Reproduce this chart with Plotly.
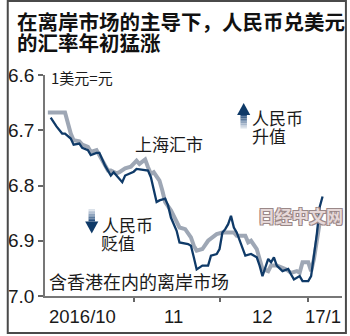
import plotly.graph_objects as go

# ---- data ----
offshore_dates = [
    "2016-10-03", "2016-10-05", "2016-10-07", "2016-10-08", "2016-10-10", "2016-10-11",
    "2016-10-13", "2016-10-14", "2016-10-16", "2016-10-17", "2016-10-19", "2016-10-20",
    "2016-10-22", "2016-10-24", "2016-10-25", "2016-10-28", "2016-10-29", "2016-11-01",
    "2016-11-02", "2016-11-05", "2016-11-06", "2016-11-07", "2016-11-09", "2016-11-10",
    "2016-11-12", "2016-11-13", "2016-11-14", "2016-11-16", "2016-11-17", "2016-11-20",
    "2016-11-21", "2016-11-22", "2016-11-23", "2016-11-25", "2016-11-27", "2016-11-28",
    "2016-11-30", "2016-12-01", "2016-12-02", "2016-12-03", "2016-12-04", "2016-12-05",
    "2016-12-06", "2016-12-07", "2016-12-08", "2016-12-09", "2016-12-10", "2016-12-12",
    "2016-12-14", "2016-12-15", "2016-12-16", "2016-12-18", "2016-12-19", "2016-12-20",
    "2016-12-21", "2016-12-23", "2016-12-25", "2016-12-26", "2016-12-27", "2016-12-29",
    "2016-12-30", "2017-01-01", "2017-01-02", "2017-01-04", "2017-01-05", "2017-01-06",
]
offshore_values = [
    6.677, 6.693, 6.706, 6.706, 6.715, 6.726,
    6.724, 6.732, 6.736, 6.745, 6.741, 6.741,
    6.764, 6.782, 6.776, 6.794, 6.782, 6.775,
    6.770, 6.773, 6.773, 6.785, 6.830, 6.827,
    6.824, 6.836, 6.858, 6.882, 6.903, 6.906,
    6.909, 6.930, 6.952, 6.945, 6.945, 6.927,
    6.924, 6.915, 6.885, 6.879, 6.870, 6.855,
    6.876, 6.885, 6.900, 6.915, 6.927, 6.924,
    6.930, 6.945, 6.964, 6.933, 6.939, 6.930,
    6.945, 6.955, 6.951, 6.961, 6.970, 6.964,
    6.973, 6.973, 6.964, 6.888, 6.839, 6.820,
]

shanghai_dates = [
    "2016-10-02", "2016-10-08", "2016-10-10", "2016-10-11", "2016-10-13", "2016-10-14",
    "2016-10-16", "2016-10-17", "2016-10-19", "2016-10-21", "2016-10-23", "2016-10-24",
    "2016-10-26", "2016-10-27", "2016-10-29", "2016-10-31", "2016-11-02", "2016-11-03",
    "2016-11-05", "2016-11-06", "2016-11-07", "2016-11-08", "2016-11-10", "2016-11-11",
    "2016-11-12", "2016-11-14", "2016-11-16", "2016-11-17", "2016-11-19", "2016-11-21",
    "2016-11-22", "2016-11-23", "2016-11-25", "2016-11-27", "2016-11-30", "2016-12-02",
    "2016-12-04", "2016-12-06", "2016-12-07", "2016-12-10", "2016-12-11", "2016-12-12",
    "2016-12-14", "2016-12-16", "2016-12-18", "2016-12-19", "2016-12-21", "2016-12-23",
    "2016-12-24", "2016-12-26", "2016-12-28", "2016-12-29", "2016-12-30", "2017-01-01",
    "2017-01-02", "2017-01-03", "2017-01-05",
]
shanghai_values = [
    6.668, 6.668, 6.706, 6.718, 6.720, 6.726,
    6.730, 6.739, 6.736, 6.755, 6.773, 6.773,
    6.778, 6.776, 6.769, 6.766, 6.755, 6.761,
    6.753, 6.767, 6.779, 6.776, 6.791, 6.809,
    6.830, 6.845, 6.864, 6.876, 6.879, 6.894,
    6.909, 6.918, 6.915, 6.900, 6.888, 6.885,
    6.885, 6.885, 6.891, 6.891, 6.903, 6.900,
    6.915, 6.951, 6.955, 6.945, 6.945, 6.948,
    6.951, 6.958, 6.955, 6.958, 6.939, 6.939,
    6.955, 6.933, 6.867,
]

y_ticks = [6.6, 6.7, 6.8, 6.9, 7.0]
y_tick_labels = ["6.6", "6.7", "6.8", "6.9", "7.0"]
month_ticks = ["2016-11-01", "2016-12-01", "2017-01-01"]
month_label_pos = ["2016-10-14", "2016-11-15", "2016-12-16", "2017-01-06"]
month_labels = ["2016/10", "11", "12", "17/1"]

title_lines = ["在离岸市场的主导下，人民币兑美元", "的汇率年初猛涨"]

# ---- layout geometry (pixels) ----
W, H = 350, 336
L, R, T, B = 39, 8, 75, 40
PW, PH = W - L - R, H - T - B


def X(px):
    return (px - L) / PW


def Y(py):
    return (H - B - py) / PH


CJK = "Noto Sans CJK SC, Noto Sans CJK JP, sans-serif"
NUM = "Liberation Sans, Arial, sans-serif"
DARK = "#0f3a68"
GRAY = "#9ea7b5"
TXT = "#1a1a1a"

fig = go.Figure()
fig.add_trace(go.Scatter(x=shanghai_dates, y=shanghai_values, mode="lines",
                         line=dict(color=GRAY, width=4), hoverinfo="skip", showlegend=False))
fig.add_trace(go.Scatter(x=offshore_dates, y=offshore_values, mode="lines",
                         line=dict(color=DARK, width=2.3), hoverinfo="skip", showlegend=False))

annotations = []
# title
for line, py in zip(title_lines, [21, 42]):
    annotations.append(dict(text=line, x=X(8), y=Y(py), xref="paper", yref="paper",
                            xanchor="left", yanchor="middle", showarrow=False,
                            font=dict(family=CJK, size=20.5, color="#111", weight="bold")))
# unit
annotations.append(dict(text="1美元=元", x=X(43), y=Y(77.5), xref="paper", yref="paper",
                        xanchor="left", yanchor="middle", showarrow=False,
                        font=dict(family=CJK, size=15, color=TXT)))
# x labels
for pos, lab in zip(month_label_pos, month_labels):
    annotations.append(dict(text=lab, x=pos, y=Y(316), xref="x", yref="paper",
                            xanchor="center", yanchor="middle", showarrow=False,
                            font=dict(family=NUM, size=18.5, color=TXT)))
# series labels
annotations.append(dict(text="上海汇市", x=X(165), y=Y(143), xref="paper", yref="paper",
                        xanchor="center", yanchor="middle", showarrow=False,
                        font=dict(family=CJK, size=17, color=TXT)))
annotations.append(dict(text="含香港在内的离岸市场", x=X(41), y=Y(281), xref="paper", yref="paper",
                        xanchor="left", yanchor="middle", showarrow=False,
                        font=dict(family=CJK, size=18, color=TXT)))
for txt, px, py in [("人民币", 248, 117), ("升值", 248, 135.5),
                    ("人民币", 95, 224.5), ("贬值", 94, 242.5)]:
    annotations.append(dict(text=txt, x=X(px), y=Y(py), xref="paper", yref="paper",
                            xanchor="left", yanchor="middle", showarrow=False,
                            font=dict(family=CJK, size=17, color=TXT)))
# watermark
annotations.append(dict(text="日经中文网", x=X(300), y=Y(215), xref="paper", yref="paper",
                        xanchor="center", yanchor="middle", showarrow=False,
                        font=dict(family=CJK, size=17, color="#e6d8d8", weight="bold",
                                  shadow="1px 1px 0 #9a8888, -1px -1px 0 #9a8888, 1px -1px 0 #9a8888, -1px 1px 0 #9a8888")))

shapes = []
# border frame
shapes.append(dict(type="rect", xref="paper", yref="paper",
                   x0=X(1), x1=X(346), y0=Y(333), y1=Y(1),
                   line=dict(color="#4a4a4a", width=2), fillcolor="rgba(0,0,0,0)", layer="above"))


def mix(c1, c2, t):
    a = [int(c1[i:i + 2], 16) for i in (1, 3, 5)]
    b = [int(c2[i:i + 2], 16) for i in (1, 3, 5)]
    return "#" + "".join(f"{round(a[k] + (b[k] - a[k]) * t):02x}" for k in range(3))


def arrow(xc, tip, base, end):
    hw = 6.7
    shapes.append(dict(type="path", xref="paper", yref="paper",
                       path=f"M {X(xc)} {Y(tip)} L {X(xc - hw)} {Y(base)} L {X(xc + hw)} {Y(base)} Z",
                       fillcolor=DARK, line=dict(width=0)))
    n = 8
    for i in range(n):
        y0 = base + (end - base) * i / n
        y1 = base + (end - base) * (i + 1) / n
        c = mix("#1c4677", "#e8ecf2", (i + 0.5) / n)
        shapes.append(dict(type="rect", xref="paper", yref="paper",
                           x0=X(xc - 3.3), x1=X(xc + 3.3), y0=Y(y0), y1=Y(y1),
                           fillcolor=c, line=dict(width=0)))


arrow(241.7, 103, 115, 128.5)
arrow(86.7, 233.5, 221.5, 209)

fig.update_layout(
    width=W, height=H,
    margin=dict(l=L, r=R, t=T, b=B),
    paper_bgcolor="white", plot_bgcolor="white",
    showlegend=False,
    annotations=annotations,
    shapes=shapes,
    xaxis=dict(type="date", range=["2016-10-01", "2017-01-12 19:00"],
               tickvals=month_ticks, showticklabels=False,
               ticks="outside", ticklen=4, tickwidth=1.5, tickcolor="#666",
               showline=True, linecolor="#777", linewidth=1.5,
               showgrid=False, zeroline=False, fixedrange=True),
    yaxis=dict(range=[7.0, 6.6], tickvals=y_ticks, ticktext=y_tick_labels,
               ticks="outside", ticklen=5, tickwidth=1.5, tickcolor="#666",
               showline=True, linecolor="#777", linewidth=1.5,
               showgrid=False, zeroline=False,
               tickfont=dict(family=NUM, size=19, color=TXT), fixedrange=True),
)

fig.write_html("out.html", config={"displayModeBar": False})
